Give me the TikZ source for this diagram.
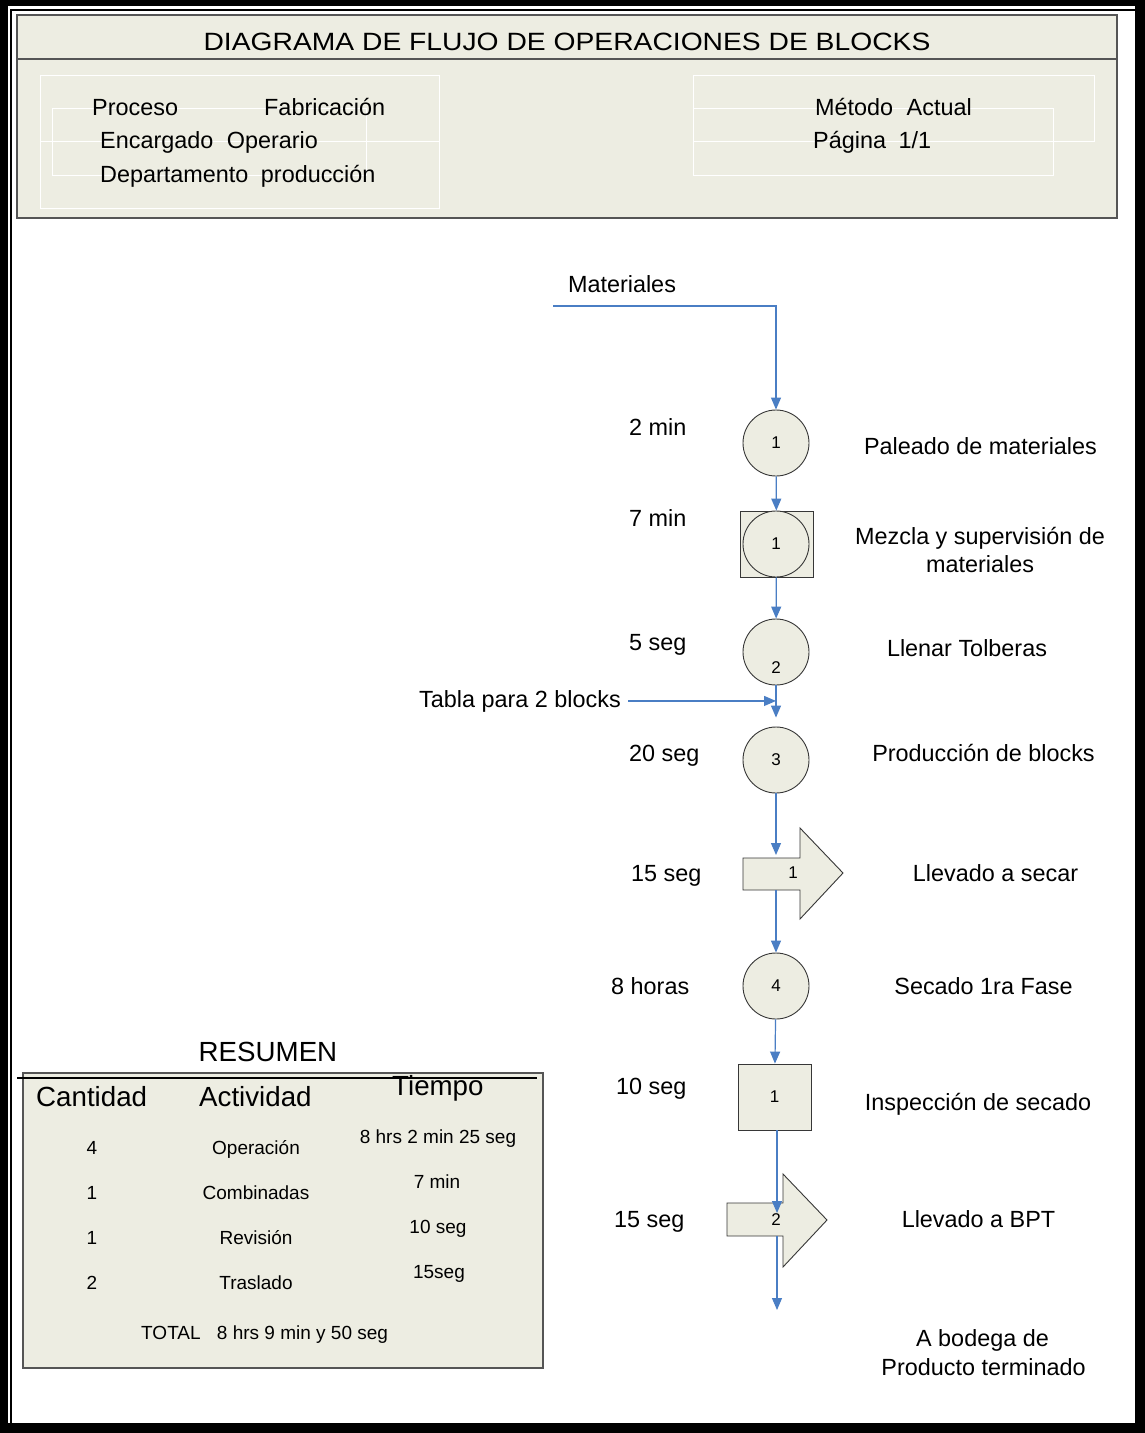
\documentclass[tikz,border=0pt]{standalone}
\usepackage{fontspec}
\setmainfont{Liberation Sans}
\usetikzlibrary{arrows.meta}

\definecolor{shapefill}{RGB}{237,237,226}
\definecolor{shapeedge}{RGB}{55,55,55}
\definecolor{boxedge}{RGB}{85,85,85}
\definecolor{flowblue}{RGB}{74,126,196}

\tikzset{
  flowline/.style={draw=flowblue, line width=1.2pt, -{Triangle[width=10pt,length=12pt]}},
  opcircle/.style={circle, draw=shapeedge, fill=shapefill, minimum size=66pt, inner sep=0pt,
    line width=0.9pt, font=\fontsize{17}{20}\selectfont},
  sqbox/.style={rectangle, draw=shapeedge, fill=shapefill, minimum width=73pt, minimum height=66pt,
    inner sep=0pt, line width=0.9pt, font=\fontsize{17}{20}\selectfont},
  transport/.style={draw=shapeedge, fill=shapefill, line width=0.9pt},
  numtxt/.style={font=\fontsize{17}{20}\selectfont, inner sep=0pt},
  lbl/.style={font=\fontsize{23.4}{28}\selectfont, inner sep=0pt, anchor=base},
  lblw/.style={font=\fontsize{23.4}{28}\selectfont, inner sep=0pt, anchor=base west},
  headtxt/.style={font=\fontsize{23.4}{28}\selectfont, inner sep=0pt, anchor=base west},
  bigtxt/.style={font=\fontsize{27.7}{33}\selectfont, inner sep=0pt},
  rowtxt/.style={font=\fontsize{19}{23}\selectfont, inner sep=0pt, anchor=base},
  faint/.style={draw=white, line width=1pt},
  panel/.style={draw=boxedge, fill=shapefill, line width=1.3pt}
}

\begin{document}
\begin{tikzpicture}[x=1pt, y=-1pt]
\useasboundingbox (0,0) rectangle (1145,1433);
\fill[white] (0,0) rectangle (1145,1433);

% page frame: heavy outer rule with a thin inner rule on top and left
\fill[black] (0,0) rectangle (8,1433);
\fill[black] (0,0) rectangle (1145,6);
\fill[black] (1135,0) rectangle (1145,1433);
\fill[black] (0,1423) rectangle (1145,1433);
\fill[black] (9.5,8.5) rectangle (12,1423);
\fill[black] (9.5,8.5) rectangle (1135,11);

% header panel
\draw[panel] (17,15) rectangle (1117,218);
\draw[boxedge, line width=1.3pt] (17,59) -- (1117,59);
\node[inner sep=0pt, anchor=base, font=\fontsize{25}{30}\selectfont] (title) at (567,50)
  {\scalebox{1.13}[1]{DIAGRAMA DE FLUJO DE OPERACIONES DE BLOCKS}};

% faint text frames in the header
\draw[faint] (40,75) rectangle (439,208);
\draw[faint] (52,108) rectangle (366,175);
\draw[faint] (40,141) -- (439,141);
\draw[faint] (693,75) rectangle (1094,141);
\draw[faint] (693,108) rectangle (1053,175);

\node[headtxt] (proc)  at (92,115)  {Proceso};
\node[headtxt] (fabr)  at (264,115) {Fabricación};
\node[headtxt] (encar) at (100,148) {Encargado\hspace{7pt} Operario};
\node[headtxt] (depto) at (100,182) {Departamento\hspace{6pt} producción};
\node[headtxt] (metod) at (815,115) {Método\hspace{7pt} Actual};
\node[headtxt] (pagin) at (813,148) {Página\hspace{6pt} 1/1};

% process symbols
\node[opcircle] (op1) at (776,443) {1};
\node[sqbox] (comb) at (776.5,544) {};
\node[opcircle] (comb c) at (776,544) {1};
\node[opcircle] (op2) at (776,652) {};
\node[numtxt] (op2n) at (776,668) {2};
\node[opcircle] (op3) at (776,760) {3};
\filldraw[transport] (743,858) -- (800,858) -- (800,828) -- (843,873) -- (800,919)
  -- (800,890) -- (743,890) -- cycle;
\node[numtxt] (tr1) at (793,873) {1};
\coordinate (tr1 in)  at (776,858);
\coordinate (tr1 out) at (776,890);
\node[opcircle] (op4) at (776,986) {4};
\node[sqbox] (insp) at (774.5,1097) {1};
\filldraw[transport] (727,1203) -- (783,1203) -- (783,1174) -- (827,1220) -- (783,1267)
  -- (783,1236) -- (727,1236) -- cycle;
\node[numtxt] (tr2) at (776,1220) {2};
\coordinate (tr2 in)  at (777,1213);
\coordinate (tr2 out) at (777,1236);
\coordinate (fin) at (777,1310);

% inputs
\node[lbl] (mat) at (622,292) {Materiales};
\coordinate (mat start) at (553,306);
\node[lbl, anchor=base east] (tabla) at (621,707) {Tabla para 2 blocks};

% connectors
\draw[flowline] (mat start) -| (op1.north);
\draw[flowline] (op1) -- (comb);
\draw[flowline] (comb) -- (op2);
\draw[flowline] ([xshift=7pt]tabla.east) -- (op2.south |- tabla.east);
\draw[flowline, shorten >=9pt] (op2) -- (op3);
\draw[flowline, shorten >=3pt] (op3) -- (tr1 in);
\draw[flowline] (tr1 out) -- (op4);
\draw[flowline] (op4) -- (insp);
\draw[flowline] (insp.south -| tr2 in) -- (tr2 in);
\draw[flowline] (tr2 out) -- (fin);

% times
\node[lblw] (t1) at (629,435)  {2 min};
\node[lblw] (t2) at (629,526)  {7 min};
\node[lblw] (t3) at (629,650)  {5 seg};
\node[lblw] (t4) at (629,761)  {20 seg};
\node[lblw] (t5) at (631,881)  {15 seg};
\node[lblw] (t6) at (611,994)  {8 horas};
\node[lblw] (t7) at (616,1094) {10 seg};
\node[lblw] (t8) at (614,1227) {15 seg};

% descriptions
\node[lbl] (d1)  at (980.5,454) {Paleado de materiales};
\node[lbl] (d2)  at (980,544)   {Mezcla y supervisión de};
\node[lbl] (d2b) at (980,572)   {materiales};
\node[lbl] (d3)  at (967,656)   {Llenar Tolberas};
\node[lbl] (d4)  at (983.5,761) {Producción de blocks};
\node[lbl] (d5)  at (995.5,881) {Llevado a secar};
\node[lbl] (d6)  at (983.5,994) {Secado 1ra Fase};
\node[lbl] (d7)  at (978,1110)  {Inspección de secado};
\node[lbl] (d8)  at (978.5,1227){Llevado a BPT};
\node[lbl] (d9)  at (982.5,1346){A bodega de};
\node[lbl] (d9b) at (983.5,1375){Producto terminado};

% summary table
\node[bigtxt, anchor=base] (res) at (268,1061) {RESUMEN};
\draw[panel, line width=1.1pt] (23,1073) rectangle (543,1368);
\draw[black, line width=1.2pt] (17,1078) -- (537,1078);
\node[bigtxt, anchor=base west] (hcant) at (36,1106)  {Cantidad};
\node[bigtxt, anchor=base west] (hact)  at (199,1106) {Actividad};
\node[bigtxt, anchor=base west] (htiem) at (392,1095) {Tiempo};

\node[rowtxt] (c1) at (92,1154) {4};
\node[rowtxt] (a1) at (256,1154) {Operación};
\node[rowtxt] (s1) at (438,1143) {8 hrs 2 min 25 seg};
\node[rowtxt] (c2) at (92,1199) {1};
\node[rowtxt] (a2) at (256,1199) {Combinadas};
\node[rowtxt] (s2) at (437,1188) {7 min};
\node[rowtxt] (c3) at (92,1244) {1};
\node[rowtxt] (a3) at (256,1244) {Revisión};
\node[rowtxt] (s3) at (438,1233) {10 seg};
\node[rowtxt] (c4) at (92,1289) {2};
\node[rowtxt] (a4) at (256,1289) {Traslado};
\node[rowtxt] (s4) at (439,1278) {15seg};
\node[rowtxt, anchor=base west] (tot) at (141,1339) {TOTAL\hspace{11pt} 8 hrs 9 min y 50 seg};
\end{tikzpicture}
\end{document}
